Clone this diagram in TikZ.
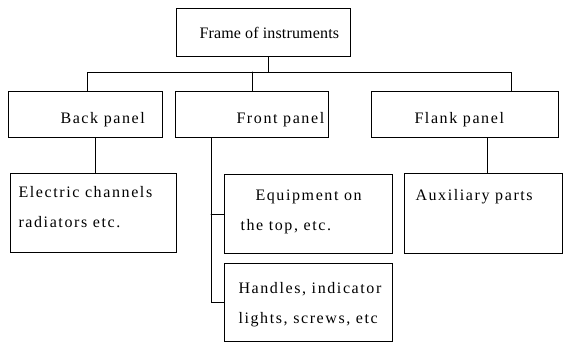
\documentclass[tikz,border=0pt]{standalone}
\usepackage{fontspec}
\setmainfont{Liberation Serif}[LetterSpace=10]
\newfontfamily\tightfont{Liberation Serif}[LetterSpace=1]
\usepackage{tikz}

\begin{document}
\begin{tikzpicture}
				[x=1pt,y=-1pt,line cap=round,line width=1pt,
				%Styles
				box/.style={draw,rectangle,inner sep=0pt,anchor=north west},
				box text/.style={anchor=base west,inner sep=0pt,align=left,
					font=\fontsize{16}{30}\selectfont}
				]
				
				\useasboundingbox (0,0) rectangle (567,343);
				
				%The boxes
				\node[box,minimum width=174pt,minimum height=48pt] (frame) at (176,8) {};
				\node[box,minimum width=154pt,minimum height=46pt] (back) at (8,91) {};
				\node[box,minimum width=153pt,minimum height=46pt] (front) at (175,91) {};
				\node[box,minimum width=187pt,minimum height=46pt] (flank) at (371,91) {};
				\node[box,minimum width=166pt,minimum height=79pt] (elec) at (10,173) {};
				\node[box,minimum width=168pt,minimum height=79pt] (equip) at (224,174) {};
				\node[box,minimum width=168pt,minimum height=78pt] (hand) at (224,263) {};
				\node[box,minimum width=158pt,minimum height=80pt] (aux) at (404,173) {};
				
				%The texts (two-line texts sit on their last line)
				\node[box text] (frame text) at (199,38) {\tightfont Frame of instruments};
				\node[box text] (back text) at (60,123) {Back panel};
				\node[box text] (front text) at (236,123) {Front panel};
				\node[box text] (flank text) at (414,123) {Flank panel};
				\node[box text] (elec text) at (18,227) {Electric channels\\radiators etc.};
				\node[box text] (equip text) at (240,230) {\hspace*{15pt}Equipment on\\the top, etc.};
				\node[box text] (hand text) at (238,323) {Handles, indicator\\lights, screws, etc};
				\node[box text] (aux text) at (415,200) {Auxiliary parts};
				
				%The connectors
				\coordinate (bus) at (268,72);
				\coordinate (bus back) at (87,72);
				\coordinate (bus front) at (252,72);
				\coordinate (bus flank) at (511,72);
				\coordinate (back down) at (95,0);
				\coordinate (front down) at (211,0);
				\coordinate (flank down) at (487,0);
				
				\draw (frame.south -| bus) -- (bus);
				\draw (back.north -| bus back) -- (bus back) -- (bus flank) -- (flank.north -| bus flank);
				\draw (bus front) -- (front.north -| bus front);
				\draw (back.south -| back down) -- (elec.north -| back down);
				\draw (flank.south -| flank down) -- (aux.north -| flank down);
				\draw (front.south -| front down) -- (hand.west -| front down) -- (hand.west);
				\draw (equip.west -| front down) -- (equip.west);
			\end{tikzpicture}
\end{document}
